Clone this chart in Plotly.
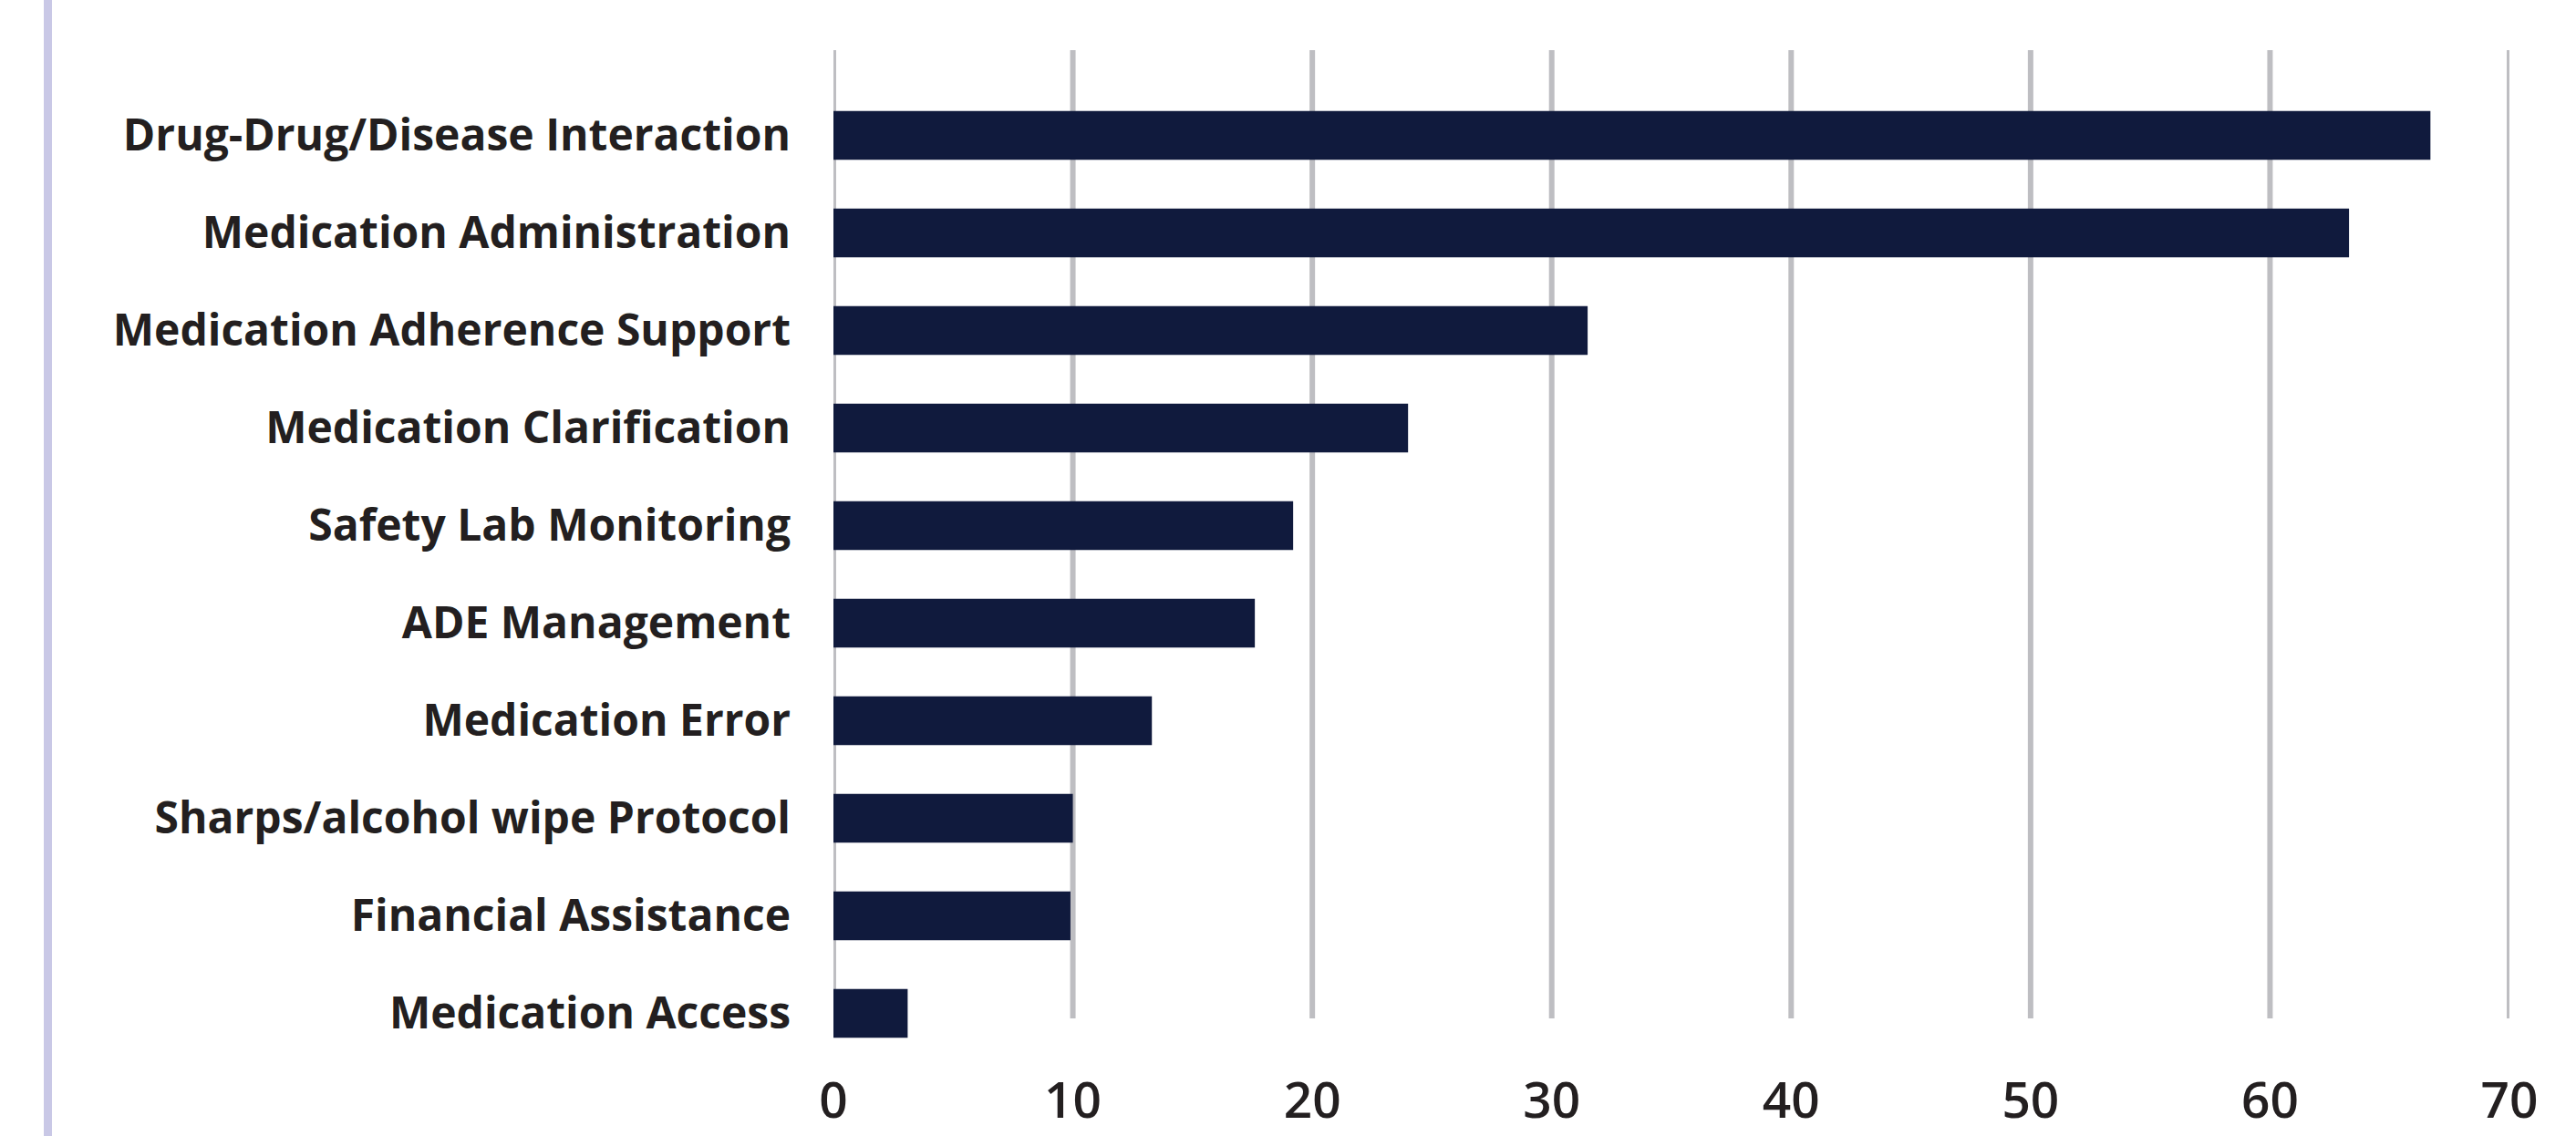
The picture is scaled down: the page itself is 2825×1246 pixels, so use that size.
import plotly.graph_objects as go

# Intervention categories, top to bottom
categories = [
    "Drug-Drug/Disease Interaction",
    "Medication Administration",
    "Medication Adherence Support",
    "Medication Clarification",
    "Safety Lab Monitoring",
    "ADE Management",
    "Medication Error",
    "Sharps/alcohol wipe Protocol",
    "Financial Assistance",
    "Medication Access",
]
values = [66.7, 63.3, 31.5, 24.0, 19.2, 17.6, 13.3, 10.0, 9.9, 3.1]

x_ticks = [0, 10, 20, 30, 40, 50, 60, 70]

BAR_COLOR = "#101a3d"
GRID_COLOR = "#bebec2"
TEXT_COLOR = "#231f20"
ACCENT = "#c9c8e6"
FONT = "Open Sans"

W, H = 2825, 1246
ML, MR, MT, MB = 914, 73, 55, 106

fig = go.Figure(
    go.Bar(
        x=values,
        y=categories,
        orientation="h",
        marker=dict(color=BAR_COLOR, line=dict(width=0)),
        width=0.5,
        hoverinfo="x+y",
    )
)

# vertical gridlines at each tick, stopping a little above the plot bottom
plot_h = H - MT - MB
grid_bottom = (H - MB - 1117) / plot_h
shapes = [
    dict(
        type="line",
        xref="x",
        yref="paper",
        x0=t,
        x1=t,
        y0=grid_bottom,
        y1=1,
        line=dict(color=GRID_COLOR, width=6),
        layer="below",
    )
    for t in x_ticks
]

# decorative accent rule at the far left edge
plot_w = W - ML - MR
accent_x = (52.5 - ML) / plot_w
shapes.append(
    dict(
        type="line",
        xref="paper",
        yref="paper",
        x0=accent_x,
        x1=accent_x,
        y0=-0.2,
        y1=1.2,
        line=dict(color=ACCENT, width=9),
        layer="below",
    )
)

fig.update_layout(
    width=W,
    height=H,
    margin=dict(l=ML, r=MR, t=MT, b=MB, pad=0, autoexpand=False),
    paper_bgcolor="white",
    plot_bgcolor="white",
    showlegend=False,
    bargap=0.5,
    shapes=shapes,
    font=dict(family=FONT, color=TEXT_COLOR),
    xaxis=dict(
        range=[0, 70],
        tickvals=x_ticks,
        ticktext=[str(t) for t in x_ticks],
        showgrid=False,
        zeroline=False,
        showline=False,
        ticks="",
        automargin=False,
        ticklabelstandoff=30,
        tickfont=dict(family=FONT, size=55, color=TEXT_COLOR, weight=600),
        fixedrange=True,
    ),
    yaxis=dict(
        type="category",
        categoryorder="array",
        categoryarray=categories,
        range=[9.266, -0.874],
        autorange=False,
        showgrid=False,
        zeroline=False,
        showline=False,
        ticks="",
        automargin=False,
        ticklabelstandoff=46,
        tickfont=dict(family=FONT, size=48, color=TEXT_COLOR, weight=700),
        fixedrange=True,
    ),
)

fig.write_html("out.html")
